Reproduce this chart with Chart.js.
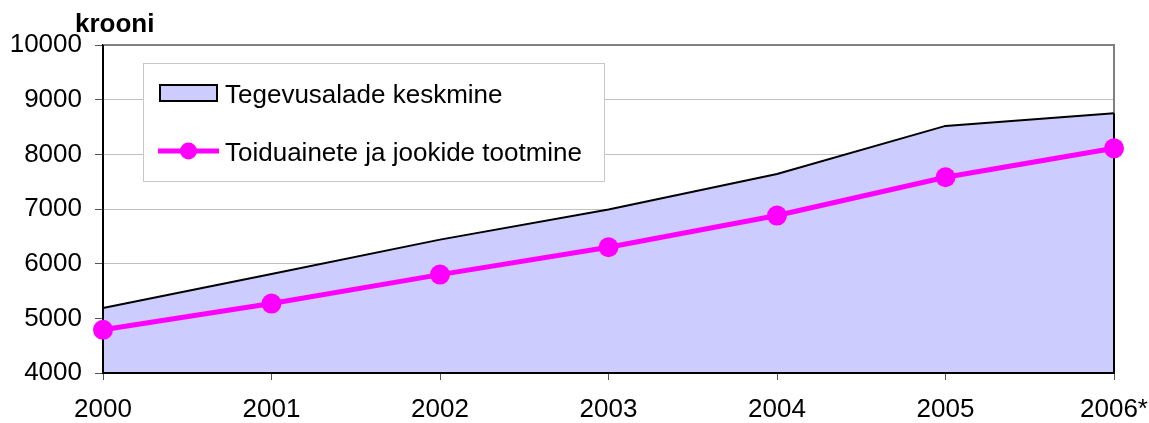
<!DOCTYPE html>
<html><head><meta charset="utf-8">
<script src="https://cdn.jsdelivr.net/npm/chart.js@4"></script>
<style>html,body{margin:0;padding:0;background:#fff;} canvas{display:block;}</style>
</head><body>
<canvas id="c" width="1149" height="423"></canvas>
<script>
const years = ['2000', '2001', '2002', '2003', '2004', '2005', '2006*'];
const averageAll = [5190, 5810, 6440, 6990, 7640, 8520, 8750];
const foodDrink = [4790, 5270, 5800, 6300, 6880, 7580, 8110];
const seriesNames = ['Tegevusalade keskmine', 'Toiduainete ja jookide tootmine'];
const unitLabel = 'krooni';
const yMin = 4000, yMax = 10000, yStep = 1000;

const FONT = '"Liberation Sans", Arial, sans-serif';
Chart.defaults.font.family = FONT;
Chart.defaults.font.size = 26;
Chart.defaults.color = '#000';

const framePlugin = {
  id: 'frame',
  beforeDatasetsDraw(chart) {
    const {ctx, chartArea: a} = chart;
    ctx.save();
    ctx.strokeStyle = '#808080';
    ctx.lineWidth = 2;
    ctx.beginPath();
    ctx.moveTo(a.left, a.top);
    ctx.lineTo(a.right, a.top);
    ctx.lineTo(a.right, a.bottom);
    ctx.stroke();
    ctx.restore();
  }
};

const areaEdgePlugin = {
  id: 'areaEdge',
  afterDatasetDraw(chart, args) {
    if (args.index !== 1) return;
    const {ctx, chartArea: a, scales} = chart;
    const ds = chart.data.datasets[1].data;
    const yLast = scales.y.getPixelForValue(ds[ds.length - 1]);
    const xLast = scales.x.getPixelForValue(ds.length - 1);
    ctx.save();
    ctx.strokeStyle = '#000';
    ctx.lineWidth = 2;
    ctx.beginPath();
    ctx.moveTo(xLast, yLast);
    ctx.lineTo(xLast, a.bottom);
    ctx.stroke();
    ctx.beginPath();
    ctx.moveTo(a.left, a.top);
    ctx.lineTo(a.left, a.bottom);
    ctx.lineTo(a.right, a.bottom);
    ctx.stroke();
    ctx.restore();
  }
};

const legendPlugin = {
  id: 'customLegend',
  afterDraw(chart) {
    const {ctx} = chart;
    const area = chart.data.datasets[1];
    const line = chart.data.datasets[0];
    ctx.save();
    ctx.fillStyle = '#fff';
    ctx.fillRect(143.5, 63.5, 461, 118);
    ctx.strokeStyle = '#c8c8c8';
    ctx.lineWidth = 1;
    ctx.strokeRect(143.5, 63.5, 461, 118);
    ctx.fillStyle = area.backgroundColor;
    ctx.fillRect(160, 85, 57, 16);
    ctx.strokeStyle = area.borderColor;
    ctx.lineWidth = 2;
    ctx.strokeRect(160, 85, 57, 16);
    ctx.strokeStyle = line.borderColor;
    ctx.lineWidth = 5;
    ctx.beginPath();
    ctx.moveTo(158, 151);
    ctx.lineTo(219, 151);
    ctx.stroke();
    ctx.fillStyle = line.borderColor;
    ctx.beginPath();
    ctx.arc(188.5, 151, 8.5, 0, Math.PI * 2);
    ctx.fill();
    ctx.fillStyle = '#000';
    ctx.font = '26px ' + FONT;
    ctx.textAlign = 'left';
    ctx.textBaseline = 'alphabetic';
    ctx.fillText(area.label, 225, 103);
    ctx.fillText(line.label, 225, 161);
    ctx.font = 'bold 26px ' + FONT;
    ctx.fillText(unitLabel, 75, 32);
    ctx.restore();
  }
};

new Chart(document.getElementById('c'), {
  type: 'line',
  data: {
    labels: years,
    datasets: [
      {
        label: seriesNames[1],
        data: foodDrink,
        borderColor: '#ff00ff',
        backgroundColor: '#ff00ff',
        borderWidth: 5,
        pointRadius: 10,
        pointHoverRadius: 10,
        pointBackgroundColor: '#ff00ff',
        pointBorderWidth: 0,
        fill: false,
        tension: 0,
        clip: false
      },
      {
        label: seriesNames[0],
        data: averageAll,
        borderColor: '#000000',
        backgroundColor: '#ccccff',
        borderWidth: 2,
        pointRadius: 0,
        pointHoverRadius: 0,
        fill: 'start',
        tension: 0
      }
    ]
  },
  options: {
    responsive: false,
    animation: false,
    layout: {padding: {top: 45, right: 35, left: 0, bottom: 0}},
    plugins: {
      legend: {display: false},
      title: {display: false},
      tooltip: {enabled: false}
    },
    scales: {
      x: {
        type: 'category',
        offset: false,
        grid: {display: true, drawOnChartArea: false, drawTicks: true, tickLength: 7, tickColor: '#555', offset: false},
        border: {display: true, color: '#000', width: 2},
        ticks: {color: '#000', font: {size: 26}, padding: 14, maxRotation: 0, autoSkip: false},
        afterFit(s) { s.height = 50; s.paddingLeft = 0; s.paddingRight = 0; }
      },
      y: {
        min: yMin,
        max: yMax,
        grid: {color: '#c0c0c0', lineWidth: 1, tickLength: 8, tickColor: '#555', drawTicks: true},
        border: {display: true, color: '#000', width: 2},
        ticks: {stepSize: yStep, color: '#000', font: {size: 26}, padding: 13, callback: v => String(v)},
        afterFit(s) { s.width = 103; s.paddingTop = 0; s.paddingBottom = 0; }
      }
    }
  },
  plugins: [framePlugin, areaEdgePlugin, legendPlugin]
});
</script>
</body></html>
